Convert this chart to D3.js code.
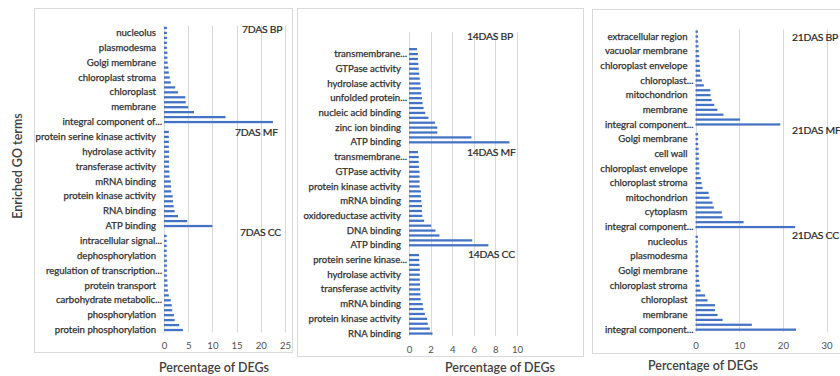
<!DOCTYPE html>
<html>
<head>
<meta charset="utf-8">
<script src="https://cdn.jsdelivr.net/npm/d3@7"></script>
<style>
  html, body { margin: 0; padding: 0; background: #fff; }
  svg { display: block; font-family: Lato, "Open Sans", "Liberation Sans", sans-serif; }
</style>
</head>
<body>
<svg id="chart" width="840" height="376"></svg>
<script>
// ---------------- data (each group listed top to bottom, "" = unlabelled term) ----------------
const groupCodes = ["BP", "MF", "CC"];

// 7DAS
const terms7Top = ["", "nucleolus", "", "", "plasmodesma", "", "", "Golgi membrane", "", "", "chloroplast stroma", "", "", "chloroplast", "", "", "membrane", "", "", "integral component of..."];
const values7Top = [0.6, 0.6, 0.6, 0.6, 0.6, 0.7, 0.7, 0.75, 0.9, 1.0, 1.2, 1.4, 2.3, 2.9, 4.4, 4.5, 5.0, 6.2, 12.7, 22.5];
const terms7Mid = ["", "protein serine kinase activity", "", "", "hydrolase activity", "", "", "transferase activity", "", "", "mRNA binding", "", "", "protein kinase activity", "", "", "RNA binding", "", "", "ATP binding"];
const values7Mid = [1.0, 1.0, 1.0, 1.0, 1.05, 1.05, 1.05, 1.05, 1.1, 1.15, 1.4, 1.45, 1.5, 1.8, 1.85, 2.0, 2.2, 2.9, 4.8, 10.0];
const terms7Bottom = ["", "intracellular signal...", "", "", "dephosphorylation", "", "", "regulation of transcription...", "", "", "protein transport", "", "", "carbohydrate metabolic...", "", "", "phosphorylation", "", "", "protein phosphorylation"];
const values7Bottom = [0.55, 0.55, 0.55, 0.55, 0.55, 0.6, 0.6, 0.6, 0.6, 0.7, 0.75, 0.8, 1.0, 1.4, 1.6, 1.7, 2.05, 2.2, 3.15, 3.9];

// 14DAS
const terms14Top = ["", "transmembrane...", "", "", "GTPase activity", "", "", "hydrolase activity", "", "", "unfolded protein...", "", "", "nucleic acid binding", "", "", "zinc ion binding", "", "", "ATP binding"];
const values14Top = [0.74, 0.83, 0.83, 0.86, 0.9, 0.95, 1.0, 1.05, 1.1, 1.15, 1.2, 1.26, 1.35, 1.5, 1.8, 2.4, 2.62, 2.62, 5.78, 9.3];
const terms14Mid = ["", "transmembrane...", "", "", "GTPase activity", "", "", "protein kinase activity", "", "", "mRNA binding", "", "", "oxidoreductase activity", "", "", "DNA binding", "", "", "ATP binding"];
const values14Mid = [0.83, 0.9, 0.9, 0.92, 0.98, 0.98, 0.98, 0.98, 1.1, 1.1, 1.14, 1.2, 1.2, 1.23, 1.4, 2.05, 2.45, 2.82, 5.85, 7.35];
const terms14Bottom = ["", "protein serine kinase...", "", "", "hydrolase activity", "", "", "transferase activity", "", "", "mRNA binding", "", "", "protein kinase activity", "", "", "RNA binding"];
const values14Bottom = [0.93, 0.95, 0.97, 1.0, 1.0, 1.0, 1.02, 1.03, 1.05, 1.08, 1.27, 1.33, 1.47, 1.68, 1.74, 1.93, 2.18];

// 21DAS
const terms21Top = ["", "extracellular region", "", "", "vacuolar membrane", "", "", "chloroplast envelope", "", "", "chloroplast...", "", "", "mitochondrion", "", "", "membrane", "", "", "integral component..."];
const values21Top = [0.55, 0.6, 0.6, 0.7, 0.75, 0.85, 0.9, 1.0, 1.07, 1.07, 1.45, 1.9, 3.4, 3.45, 3.7, 4.3, 5.0, 6.4, 10.2, 19.4];
const terms21Mid = ["", "Golgi membrane", "", "", "cell wall", "", "", "chloroplast envelope", "", "", "chloroplast stroma", "", "", "mitochondrion", "", "", "cytoplasm", "", "", "integral component..."];
const values21Mid = [0.6, 0.6, 0.6, 0.7, 0.75, 0.75, 0.85, 0.85, 0.9, 1.2, 1.4, 1.6, 3.0, 3.2, 3.9, 4.2, 6.0, 6.2, 11.0, 22.8];
const terms21Bottom = ["", "nucleolus", "", "", "plasmodesma", "", "", "Golgi membrane", "", "", "chloroplast stroma", "", "", "chloroplast", "", "", "membrane", "", "", "integral component..."];
const values21Bottom = [0.55, 0.55, 0.55, 0.6, 0.6, 0.6, 0.7, 0.7, 0.75, 0.85, 1.0, 1.15, 2.2, 2.75, 4.45, 4.45, 5.05, 6.2, 12.9, 23.0];

// value-axis ticks
const ticks7 = [0, 5, 10, 15, 20, 25];
const ticks14 = [0, 2, 4, 6, 8, 10];
const ticks21 = [0, 10, 20, 30];

const xTitle = "Percentage of DEGs";
const yTitle = "Enriched GO terms";

// ---------------- layout ----------------
const panels = [
  {
    name: "7DAS", lead: 0, ticks: ticks7,
    groups: [[terms7Top, values7Top], [terms7Mid, values7Mid], [terms7Bottom, values7Bottom]],
    box: { x: 34, y: 8, w: 258, h: 344 },
    plot: { l: 164, r: 285, t: 25.5, b: 332.5 },
    headings: [[242, 29], [235, 132], [240, 232]],
    titleAt: [214, 368]
  },
  {
    name: "14DAS", lead: 3, ticks: ticks14,
    groups: [[terms14Top, values14Top], [terms14Mid, values14Mid], [terms14Bottom, values14Bottom]],
    box: { x: 297, y: 8, w: 286, h: 348 },
    plot: { l: 409, r: 517, t: 32, b: 336 },
    headings: [[467, 36], [467, 152], [468, 254]],
    titleAt: [500, 368]
  },
  {
    name: "21DAS", lead: 0, ticks: ticks21,
    groups: [[terms21Top, values21Top], [terms21Mid, values21Mid], [terms21Bottom, values21Bottom]],
    box: { x: 592, y: 9, w: 270, h: 344 },
    plot: { l: 695.5, r: 826.6, t: 29.2, b: 332.1 },
    headings: [[792, 37], [792, 130], [792, 235]],
    titleAt: [703, 366]
  }
];

const BAR = "#4472C4";
const GRID = "#D9D9D9";
const TEXT = "#404040";
const LABEL = "#303030";

const svg = d3.select("#chart");

// one row per category slot; an empty slot separates consecutive groups
function buildRows(p) {
  const rows = [];
  for (let i = 0; i < p.lead; i++) rows.push({ term: "", value: null });
  p.groups.forEach(([terms, values], gi) => {
    if (gi > 0) rows.push({ term: "", value: null });
    terms.forEach((t, i) => rows.push({ term: t, value: values[i] }));
  });
  rows.forEach((r, i) => (r.key = i));
  return rows;
}

panels.forEach(p => {
  const rows = buildRows(p);
  const g = svg.append("g");

  g.append("rect")
    .attr("x", p.box.x + 0.5).attr("y", p.box.y + 0.5)
    .attr("width", p.box.w).attr("height", p.box.h)
    .attr("fill", "#fff").attr("stroke", GRID).attr("stroke-width", 1);

  const x = d3.scaleLinear()
    .domain([0, p.ticks[p.ticks.length - 1]])
    .range([p.plot.l, p.plot.r]);

  const y = d3.scaleBand()
    .domain(rows.map(r => r.key))
    .range([p.plot.t, p.plot.b])
    .paddingInner(0.54)
    .paddingOuter(0.27);

  // vertical gridlines
  g.append("g").selectAll("line")
    .data(p.ticks)
    .join("line")
    .attr("x1", d => Math.round(x(d)) + 0.5).attr("x2", d => Math.round(x(d)) + 0.5)
    .attr("y1", p.plot.t).attr("y2", p.plot.b)
    .attr("stroke", GRID).attr("stroke-width", 1);

  // bars
  g.append("g").selectAll("rect")
    .data(rows.filter(r => r.value != null))
    .join("rect")
    .attr("x", x(0))
    .attr("y", d => y(d.key))
    .attr("width", d => x(d.value) - x(0))
    .attr("height", y.bandwidth())
    .attr("fill", BAR);

  // category labels
  const yAxis = g.append("g")
    .attr("transform", `translate(${x(0) - 8},0)`)
    .call(d3.axisLeft(y).tickSize(0).tickPadding(0).tickFormat(k => rows[k].term));
  yAxis.select(".domain").remove();
  yAxis.selectAll("text")
    .attr("x", function () { return this.textContent.endsWith("...") ? 6 : 0; })
    .attr("fill", LABEL)
    .attr("stroke", LABEL)
    .attr("stroke-width", 0.25)
    .style("font-size", "9.6px")
    .style("font-family", "Lato, 'Open Sans', sans-serif");

  // value-axis tick labels
  const xAxis = g.append("g")
    .attr("transform", `translate(0,${p.plot.b})`)
    .call(d3.axisBottom(x).tickValues(p.ticks).tickSize(0).tickPadding(10));
  xAxis.select(".domain").remove();
  xAxis.selectAll("text")
    .attr("fill", "#505050")
    .style("font-size", "9.6px")
    .style("font-family", "Lato, 'Open Sans', sans-serif");

  // group headings
  g.append("g").selectAll("text")
    .data(p.headings)
    .join("text")
    .attr("x", d => d[0]).attr("y", d => d[1])
    .attr("dy", "0.35em")
    .attr("fill", "#262626")
    .attr("stroke", "#262626")
    .attr("stroke-width", 0.2)
    .style("font-size", "10.4px")
    .style("letter-spacing", "-0.25px")
    .text((d, i) => `${p.name} ${groupCodes[i]}`);

  // value-axis title
  g.append("text")
    .attr("x", p.titleAt[0]).attr("y", p.titleAt[1])
    .attr("dy", "0.35em")
    .attr("text-anchor", "middle")
    .attr("fill", TEXT)
    .style("font-size", "12.5px")
    .style("font-weight", "600")
    .text(xTitle);
});

// category-axis title
svg.append("text")
  .attr("transform", "translate(18,166) rotate(-90)")
  .attr("dy", "0.35em")
  .attr("text-anchor", "middle")
  .attr("fill", TEXT)
  .style("font-size", "12.5px")
  .style("font-weight", "600")
  .text(yTitle);
</script>
</body>
</html>
